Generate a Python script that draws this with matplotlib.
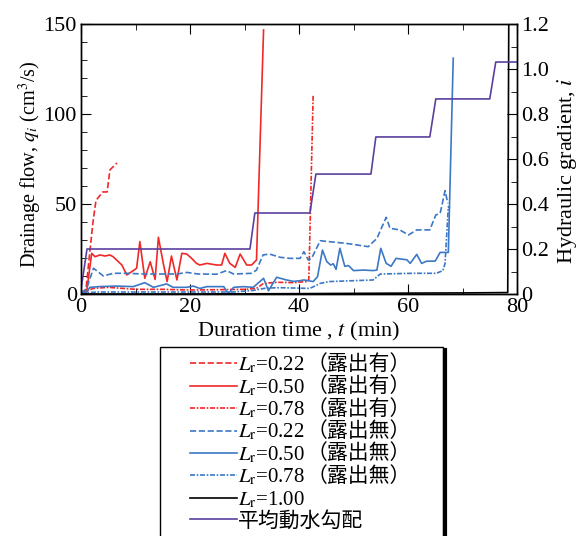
import numpy as np
import matplotlib
matplotlib.use('Agg')
import matplotlib.pyplot as plt
from matplotlib.patches import Rectangle
from matplotlib.lines import Line2D
from matplotlib.ticker import MultipleLocator, FuncFormatter

plt.rcParams['font.family'] = ['Liberation Serif', 'Noto Sans CJK JP']
plt.rcParams['mathtext.fontset'] = 'stix'

# drainage flow q (cm3/s) vs time t (min)
t_022_exp = [0, 0.9, 1.5, 2.2, 2.75, 4.0, 4.8, 5.3, 6.6]
q_022_exp = [1, 2, 20, 40, 52, 56.7, 56.7, 68.9, 72.8]

t_050_exp = [0, 1.0, 1.96, 2.57, 3.49, 4.4, 5.3, 5.9, 7.5, 8.4, 9.3, 10.2, 10.8, 11.7,
             12.7, 13.6, 14.2, 15.1, 15.8, 16.6, 17.6, 18.5, 19.4, 20.3, 21.2, 21.8,
             23.1, 24.9, 25.8, 26.4, 27.3, 28.3, 29.2, 30.4, 31.3, 32.2, 33.5]
q_050_exp = [0.3, 0.4, 22.6, 20.7, 21.7, 21.1, 21.7, 20.7, 16.1, 10.6, 12.4, 14.3, 29.1, 8.7,
             17.9, 8.1, 31.5, 17.0, 6.9, 21.1, 7.8, 22.6, 22.2, 19.8, 17.0, 16.1,
             17.0, 16.1, 16.1, 22.6, 17.0, 14.8, 22.2, 16.1, 16.1, 18.9, 146.7]

t_078_exp = [0, 1.0, 2.2, 5.0, 10, 15, 20, 25, 30, 32.2, 33.5, 36, 39, 41.3, 41.8, 42.6]
q_078_exp = [0.5, 1.5, 3.1, 3.7, 2.6, 2.6, 2.2, 2.4, 2.6, 3.1, 5.9, 6.5, 6.3, 6.9, 8, 111]

t_022_non = [0, 1.0, 2.3, 4.1, 5.9, 8.4, 11.7, 14.8, 17.6, 19.4, 21.5, 24.9, 26.7, 28.0,
             31.3, 32.2, 33.4, 34.6, 36.5, 38.3, 40.2, 40.9, 41.7, 42.3, 43.9, 48.7,
             52.7, 54.3, 56.0, 56.7, 58.5, 60.1, 61.6, 64.0, 65.1, 65.9, 66.8, 67.3]
q_022_non = [0.5, 3, 14.3, 10, 11.5, 11.5, 11.1, 11.1, 11.1, 12, 11.1, 11, 13, 11.1,
             11.5, 13.3, 21.7, 22.2, 20.4, 19.8, 19.8, 23.5, 18.9, 19.8, 29.6, 28.1,
             26.3, 30.9, 42.6, 36.5, 35.6, 32.8, 35.6, 35.6, 43.9, 44.8, 57.4, 50.4]

t_050_non = [0, 1.0, 1.65, 3.3, 6.5, 9.6, 11.7, 13.3, 15.7, 16.9, 19.4, 20.6, 21.8, 23.1,
             24.9, 26.2, 27.0, 28.0, 29.8, 31.6, 33.5, 34.4, 35.9, 37.7, 39.0, 40.2,
             40.9, 42.6, 43.4, 44.3, 45.1, 45.8, 46.3, 46.8, 47.5, 48.4, 49.1, 50.0,
             51.9, 53.6, 54.3, 55.0, 56.0, 56.9, 57.8, 59.8, 60.4, 61.6, 62.5, 63.4,
             65.0, 65.9, 67.4, 68.3]
q_050_non = [0.3, 1.1, 3.7, 4.1, 4.4, 4.1, 6.3, 3.7, 5.6, 3.7, 3.7, 4.4, 3.1, 4.1,
             4.1, 4.1, 0, 3.7, 4.1, 3.7, 8.7, 1.8, 9.3, 7.8, 7.0, 7.4,
             7.8, 6.9, 9.6, 24.4, 18.0, 16.1, 16.8, 13.7, 25.4, 15.4, 15.8, 13.0,
             13.3, 13.0, 13.3, 25.4, 17.0, 15.4, 19.8, 19.0, 17.0, 22.0, 17.0, 18.2,
             18.3, 23.1, 23.1, 131]

t_078_non = [0, 1.5, 3.0, 10, 20, 28, 31.6, 34.0, 36.5, 42.0, 43.9, 45.5, 53.6, 54.9,
             60.9, 65.2, 66.4, 66.8, 67.4, 67.7]
q_078_non = [0, 0.8, 1.1, 1.1, 1.1, 1.1, 2.0, 3.3, 3.5, 3.1, 5.9, 6.9, 7.8, 11.1,
             11.5, 11.5, 13.0, 17.0, 48.5, 47.6]

t_100 = [0, 20, 40, 60, 70, 78.3, 78.5]
q_100 = [0, 0, 0.2, 0.5, 0.6, 0.8, 160]

# mean hydraulic gradient
t_grad = [0, 1.1, 31.0, 31.9, 42.0, 43.1, 53.2, 54.1, 64.0, 65.1, 75.0, 76.1, 80]
i_grad = [0.02, 0.2, 0.2, 0.36, 0.36, 0.533, 0.533, 0.698, 0.698, 0.867, 0.867, 1.031, 1.031]

# legend labels: L_r part and Japanese suffix
lr_labels = ['0.22', '0.50', '0.78', '0.22', '0.50', '0.78', '1.00']
suffixes = ['（露出有）', '（露出有）', '（露出有）', '（露出無）', '（露出無）', '（露出無）', '']
grad_label = '平均動水勾配'

red = '#f02828'
blue = '#3b78c6'
purple = '#5b40a0'
dd = (0, (3, 1, 1, 1))

fig = plt.figure(figsize=(5.87, 5.36), dpi=100)
ax = fig.add_axes([81 / 587, 1 - 294 / 536, 436 / 587, 270 / 536])
ax2 = ax.twinx()

lw = 1.2
series = [(t_022_exp, q_022_exp, red, '--'), (t_050_exp, q_050_exp, red, '-'),
          (t_078_exp, q_078_exp, red, dd), (t_022_non, q_022_non, blue, '--'),
          (t_050_non, q_050_non, blue, '-'), (t_078_non, q_078_non, blue, dd),
          (t_100, q_100, 'black', '-')]
for (t, q, c, ls), lab in zip(series, lr_labels):
    ax.plot(t, q, color=c, ls=ls, lw=lw, label=r'$L_\mathrm{r}$=' + lab)
ax2.plot(t_grad, i_grad, color=purple, ls='-', lw=lw, label=grad_label)

ax.set_xlim(0, 80)
ax.set_ylim(0, 150)
ax2.set_ylim(0, 1.2)

ax.xaxis.set_major_locator(MultipleLocator(20))
ax.xaxis.set_minor_locator(MultipleLocator(10))
ax.yaxis.set_major_locator(MultipleLocator(50))
ax.yaxis.set_minor_locator(MultipleLocator(10))
ax2.yaxis.set_major_locator(MultipleLocator(0.2))
ax2.yaxis.set_minor_locator(MultipleLocator(0.1))
ax.xaxis.set_major_formatter(FuncFormatter(lambda v, p: f'{v:.0f}'))
ax.yaxis.set_major_formatter(FuncFormatter(lambda v, p: f'{v:.0f}'))
ax2.yaxis.set_major_formatter(FuncFormatter(lambda v, p: '0' if abs(v) < 1e-9 else f'{v:.1f}'))

ax.tick_params(which='both', direction='in', top=True, right=False, labelsize=16, pad=3)
ax.tick_params(which='major', length=7)
ax.tick_params(which='minor', length=4)
ax2.tick_params(which='both', direction='in', labelsize=16, pad=3)
ax2.tick_params(which='major', length=7)
ax2.tick_params(which='minor', length=4)

for a in (ax, ax2):
    for s in a.spines.values():
        s.set_linewidth(1.0)

ax.set_xlabel(r'Duration time , $t$ (min)', fontsize=16, labelpad=2)
ax.set_ylabel(r'Drainage flow, $q_i$ (cm$^3$/s)', fontsize=14.6)
ax.yaxis.set_label_coords(-0.085, 0.48)
ax2.set_ylabel(r'Hydraulic gradient, $i$', fontsize=16)
ax2.yaxis.set_label_coords(1.088, 0.456)

# legend box below the axes
box_l, box_r, box_t = 160 / 587, 443 / 587, 1 - 347 / 536
fig.patches.append(Rectangle((box_l, -0.05), box_r - box_l, box_t + 0.05,
                             transform=fig.transFigure, facecolor='white',
                             edgecolor='black', lw=1.0, zorder=1))
fig.lines.append(Line2D([box_r + 1.5 / 587, box_r + 1.5 / 587], [-0.05, box_t - 3 / 536],
                        transform=fig.transFigure, color='black', lw=3, zorder=2))

h1, l1 = ax.get_legend_handles_labels()
h2, l2 = ax2.get_legend_handles_labels()
leg = fig.legend(h1 + h2, l1 + l2, loc='upper left',
                 bbox_to_anchor=(190 / 587, 1 - 355 / 536),
                 frameon=False, fontsize=15, handlelength=2.25, handletextpad=0.05,
                 labelspacing=0.08, borderpad=0, borderaxespad=0)
leg.set_zorder(3)

# Japanese suffixes placed right after the mathtext labels
fig.canvas.draw()
W, H = fig.bbox.width, fig.bbox.height
for txt, suf in zip(leg.get_texts(), suffixes):
    if not suf:
        continue
    bb = txt.get_window_extent()
    fig.text((bb.x1 + 2) / W, (bb.y0 + bb.y1) / 2 / H + 1.5 / H, suf,
             fontsize=15, family=['Noto Sans CJK JP'], va='center', ha='left',
             zorder=4)

fig.savefig('out.png', dpi=100)
